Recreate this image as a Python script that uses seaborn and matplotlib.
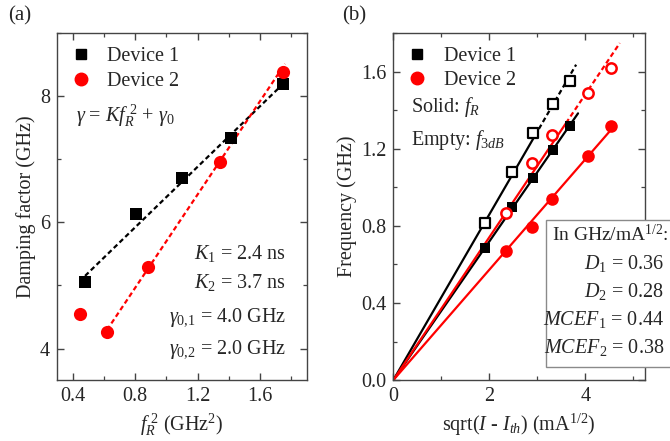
import numpy as np
import pandas as pd
import matplotlib
matplotlib.use("Agg")
import matplotlib.pyplot as plt
from matplotlib.lines import Line2D
from matplotlib.patches import Rectangle
from matplotlib.ticker import MultipleLocator
import seaborn as sns

# ---------------- data: panel (a) ----------------
fr2_dev1 = [0.477, 0.806, 1.10, 1.414, 1.746]
gamma_dev1 = [5.05, 6.14, 6.71, 7.34, 8.20]
fr2_dev2 = [0.45, 0.623, 0.885, 1.344, 1.746]
gamma_dev2 = [4.55, 4.27, 5.29, 6.96, 8.38]
K_values = [2.4, 3.7]          # ns
gamma0_values = [4.0, 2.0]     # GHz
fit_range_dev1 = [0.48, 1.75]
fit_range_dev2 = [0.62, 1.76]

# ---------------- data: panel (b) ----------------
sqrt_dev1 = [1.906, 2.47, 2.92, 3.33, 3.69]
fR_dev1 = [0.686, 0.899, 1.049, 1.195, 1.32]
f3dB_dev1 = [0.816, 1.08, 1.283, 1.43, 1.55]
sqrt_dev2 = [2.34, 2.89, 3.31, 4.05, 4.54]
fR_dev2 = [0.67, 0.795, 0.94, 1.164, 1.32]
f3dB_dev2 = [0.866, 1.127, 1.273, 1.49, 1.62]
D_values = [0.36, 0.28]
MCEF_values = [0.44, 0.38]
# line extents: [solid end, dashed end]
fR_line_dev1 = [3.85, 3.85]
f3dB_line_dev1 = [2.95, 3.81]
fR_line_dev2 = [4.63, 4.63]
f3dB_line_dev2 = [3.60, 4.72]

# ---------------- style ----------------
sns.set_theme(style="ticks")
plt.rcParams["font.family"] = ["Liberation Serif", "DejaVu Serif"]
plt.rcParams["mathtext.fontset"] = "custom"
plt.rcParams["mathtext.rm"] = "Liberation Serif"
plt.rcParams["mathtext.it"] = "Liberation Serif:italic"
plt.rcParams["mathtext.bf"] = "Liberation Serif:bold"
FS = 14.5
SPINE = "#444444"

fig = plt.figure(figsize=(6.7, 4.41), dpi=100)
ax1 = fig.add_axes([0.085, 0.138, 0.373, 0.787])
ax2 = fig.add_axes([0.587, 0.138, 0.376, 0.787])

def style_axes(ax):
    for s in ax.spines.values():
        s.set_visible(True)
        s.set_color(SPINE)
        s.set_linewidth(1.0)
    ax.tick_params(which="both", direction="in", top=True, right=True,
                   color=SPINE, labelsize=FS, pad=5)
    ax.tick_params(which="major", length=5, width=1.0)
    ax.tick_params(which="minor", length=3, width=0.9)

# ---------------- panel (a) ----------------
xa1 = np.array(fit_range_dev1)
xa2 = np.array(fit_range_dev2)
fit_a = pd.DataFrame({
    "x": np.concatenate([xa1, xa2]),
    "y": np.concatenate([K_values[0] * xa1 + gamma0_values[0],
                         K_values[1] * xa2 + gamma0_values[1]]),
    "dev": ["d1"] * 2 + ["d2"] * 2,
})
sns.lineplot(data=fit_a, x="x", y="y", hue="dev", palette={"d1": "black", "d2": "red"},
             ax=ax1, legend=False, linewidth=1.6, estimator=None, sort=False)
for ln in ax1.get_lines():
    ln.set_dashes([2.2, 1.4])

sns.scatterplot(x=fr2_dev1, y=gamma_dev1, ax=ax1, marker="s", color="black",
                s=70, edgecolor="black", linewidth=0, zorder=3)
sns.scatterplot(x=fr2_dev2, y=gamma_dev2, ax=ax1, marker="o", color="red",
                s=90, edgecolor="red", linewidth=0, zorder=3)

ax1.set_xlim(0.3, 1.9)
ax1.set_ylim(3.5, 9.0)
ax1.xaxis.set_major_locator(MultipleLocator(0.4))
ax1.xaxis.set_minor_locator(MultipleLocator(0.2))
ax1.yaxis.set_major_locator(MultipleLocator(2))
ax1.yaxis.set_minor_locator(MultipleLocator(1))
ax1.set_xticks([0.4, 0.8, 1.2, 1.6])
ax1.set_xticklabels(["0.4", "0.8", "1.2", "1.6"])
style_axes(ax1)
ax1.set_xlabel(r"$f_R^{\ 2}$ (GHz$^2$)", fontsize=FS)
ax1.set_ylabel("Damping factor (GHz)", fontsize=FS, labelpad=3)

h1 = [Line2D([], [], ls="", marker="s", color="black", ms=7.5),
      Line2D([], [], ls="", marker="o", color="red", ms=9)]
ax1.legend(h1, ["Device 1", "Device 2"], loc="upper left", frameon=False,
           fontsize=FS, handlelength=1.0, handletextpad=0.8, borderaxespad=0.3,
           labelspacing=0.3, bbox_to_anchor=(0.0, 1.0))

ax1.text(0.42, 7.69, r"$\gamma$ = $Kf_R^{\ 2}$ + $\gamma_\mathit{0}$", fontsize=FS,
         ha="left", va="center")
rt = [(5.51, r"$K_\mathit{1}$ = %.1f ns" % K_values[0]),
      (5.05, r"$K_2$ = %.1f ns" % K_values[1]),
      (4.49, r"$\gamma_{\mathit{0{,}1}}$ = %.1f GHz" % gamma0_values[0]),
      (3.98, r"$\gamma_{\mathit{0{,}2}}$ = %.1f GHz" % gamma0_values[1])]
for yy, t in rt:
    ax1.text(1.765, yy, t, fontsize=FS, ha="right", va="center")

# ---------------- panel (b) ----------------
def origin_slope(x, y):
    x = np.asarray(x); y = np.asarray(y)
    return float(np.sum(x * y) / np.sum(x * x))

lines_b = [
    (sqrt_dev1, fR_dev1, fR_line_dev1, "black"),
    (sqrt_dev1, f3dB_dev1, f3dB_line_dev1, "black"),
    (sqrt_dev2, fR_dev2, fR_line_dev2, "red"),
    (sqrt_dev2, f3dB_dev2, f3dB_line_dev2, "red"),
]
for xs, ys, ext, col in lines_b:
    k = origin_slope(xs, ys)
    solid = pd.DataFrame({"x": [0.0, ext[0]], "y": [0.0, k * ext[0]]})
    sns.lineplot(data=solid, x="x", y="y", ax=ax2, color=col, linewidth=1.6,
                 estimator=None, sort=False)
    if ext[1] > ext[0]:
        dash = pd.DataFrame({"x": [ext[0], ext[1]], "y": [k * ext[0], k * ext[1]]})
        sns.lineplot(data=dash, x="x", y="y", ax=ax2, color=col, linewidth=1.6,
                     estimator=None, sort=False, dashes=False)
        ax2.get_lines()[-1].set_dashes([2.2, 1.4])

sns.scatterplot(x=sqrt_dev1, y=fR_dev1, ax=ax2, marker="s", color="black",
                s=62, edgecolor="black", linewidth=0, zorder=3)
sns.scatterplot(x=sqrt_dev1, y=f3dB_dev1, ax=ax2, marker="s", facecolor="white",
                s=42, edgecolor="black", linewidth=1.6, zorder=3)
sns.scatterplot(x=sqrt_dev2, y=fR_dev2, ax=ax2, marker="o", color="red",
                s=82, edgecolor="red", linewidth=0, zorder=3)
sns.scatterplot(x=sqrt_dev2, y=f3dB_dev2, ax=ax2, marker="o", facecolor="white",
                s=55, edgecolor="red", linewidth=1.8, zorder=3)

ax2.set_xlim(0, 5.25)
ax2.set_ylim(0, 1.8)
ax2.xaxis.set_major_locator(MultipleLocator(2))
ax2.xaxis.set_minor_locator(MultipleLocator(1))
ax2.yaxis.set_major_locator(MultipleLocator(0.4))
ax2.yaxis.set_minor_locator(MultipleLocator(0.2))
ax2.set_yticks([0.0, 0.4, 0.8, 1.2, 1.6])
ax2.set_yticklabels(["0.0", "0.4", "0.8", "1.2", "1.6"])
style_axes(ax2)
ax2.set_xlabel(r"sqrt($I$ - $I_{th}$) (mA$^{1/2}$)", fontsize=FS)
ax2.set_ylabel("Frequency (GHz)", fontsize=FS, labelpad=3)

h2 = [Line2D([], [], ls="", marker="s", color="black", ms=7.5),
      Line2D([], [], ls="", marker="o", color="red", ms=9)]
ax2.legend(h2, ["Device 1", "Device 2"], loc="upper left", frameon=False,
           fontsize=FS, handlelength=1.0, handletextpad=0.8, borderaxespad=0.3,
           labelspacing=0.25, bbox_to_anchor=(0.0, 1.0))
ax2.text(0.377, 1.418, r"Solid: $f_R$", fontsize=FS, ha="left", va="center")
ax2.text(0.377, 1.247, r"Empty: $f_{3dB}$", fontsize=FS, ha="left", va="center")

# ---------------- panel labels ----------------
fig.text(8 / 670, 1 - 16 / 441, "(a)", fontsize=FS + 0.5, ha="left", va="center")
fig.text(342 / 670, 1 - 16 / 441, "(b)", fontsize=FS + 0.5, ha="left", va="center")

# ---------------- parameter box ----------------
W, H = 670.0, 441.0
box = Rectangle((546 / W, 1 - 367 / H), (700 - 546) / W, (367 - 220) / H,
                transform=fig.transFigure, facecolor="white", edgecolor="#8a8a8a",
                linewidth=1.0, zorder=5)
fig.add_artist(box)
fig.text(668 / W, 1 - 235 / H, r"In GHz/mA$^{1/2}$:", fontsize=FS - 0.5,
         ha="right", va="center", zorder=6)
box_lines = [
    (263, r"$D_\mathit{1}$ = %.2f" % D_values[0]),
    (292, r"$D_2$ = %.2f" % D_values[1]),
    (320, r"$MCEF_\mathit{1}$ = %.2f" % MCEF_values[0]),
    (348, r"$MCEF_2$ = %.2f" % MCEF_values[1]),
]
for yp, t in box_lines:
    fig.text(664 / W, 1 - yp / H, t, fontsize=FS, ha="right", va="center", zorder=6)

fig.savefig("out.png", dpi=100)
